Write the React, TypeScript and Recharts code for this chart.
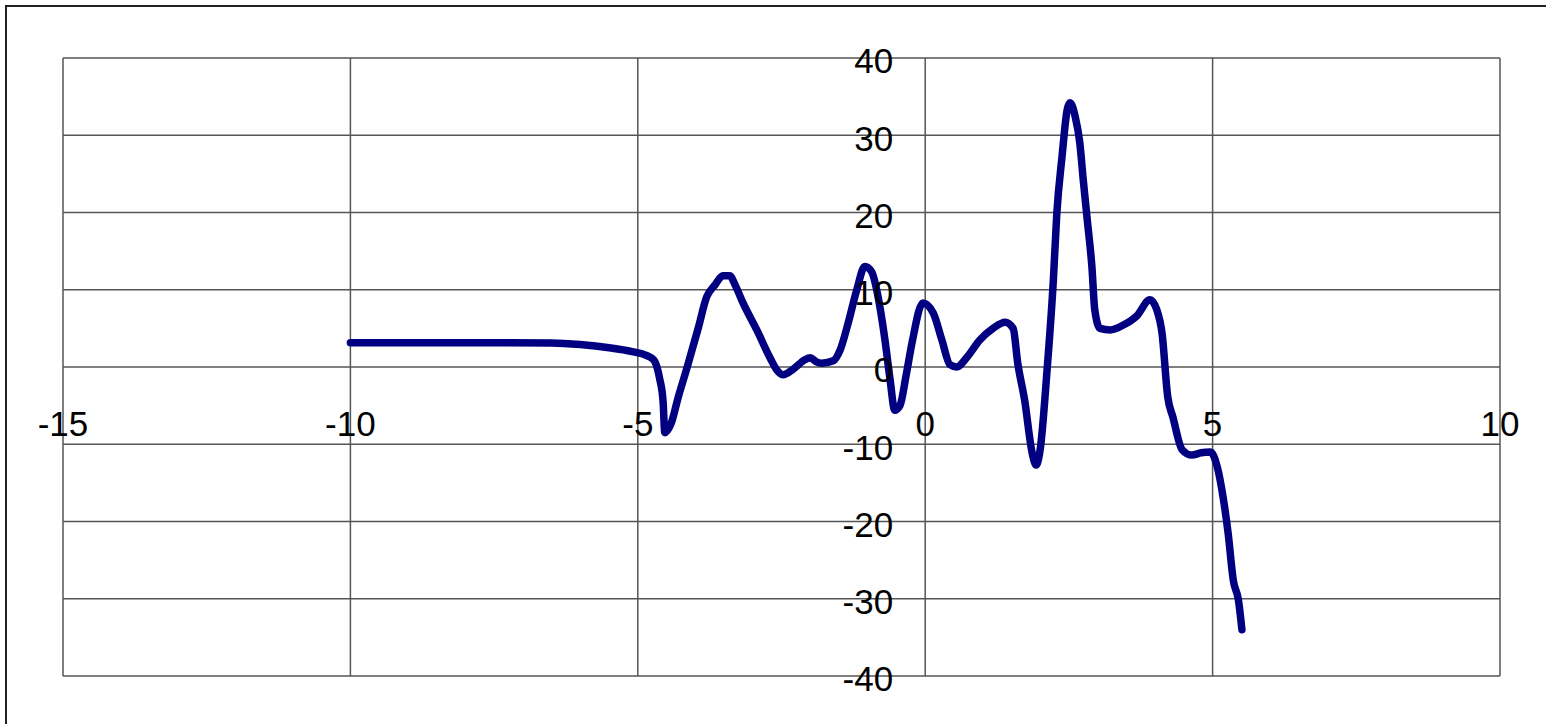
import { Line, LineChart, ReferenceDot, ReferenceLine, XAxis, YAxis } from 'recharts'

const xValues = [
  -10, -8, -6.5, -6, -5.5, -5.1, -4.85, -4.72, -4.62, -4.56, -4.53, -4.42, -4.3, -4.14, -3.95,
  -3.8, -3.66, -3.52, -3.4, -3.3, -3.17, -2.93, -2.7, -2.58, -2.47, -2.3, -2.1, -2.0, -1.9, -1.8,
  -1.6, -1.48, -1.34, -1.19, -1.05, -0.93, -0.82, -0.7, -0.61, -0.53, -0.44, -0.33, -0.23, -0.04,
  0.14, 0.29, 0.43, 0.55, 0.73, 0.95, 1.18, 1.39, 1.53, 1.61, 1.73, 1.86, 1.93, 2.0, 2.12, 2.23,
  2.29, 2.38, 2.47, 2.52, 2.61, 2.69, 2.75, 2.82, 2.9, 2.95, 3.04, 3.22, 3.44, 3.68, 3.91, 4.03,
  4.12, 4.22, 4.31, 4.47, 4.64, 4.8, 4.96, 5.08, 5.19, 5.27, 5.36, 5.45, 5.51,
]

const yValues = [
  3.15, 3.15, 3.1, 2.9, 2.5, 2.0, 1.5, 0.9, -1.5, -4.5, -8.5, -7.3, -4.0, 0, 5.0,
  9.1, 10.6, 11.8, 11.8, 10.5, 8.3, 4.8, 1.2, -0.4, -1.0, -0.3, 0.9, 1.2, 0.7, 0.5,
  0.8, 2.2, 5.7, 10.0, 13.0, 12.3, 9.1, 3.5, -1.7, -5.6, -5.0, -1.0, 3.1, 8.3,
  7.0, 3.5, 0.3, 0.0, 1.3, 3.5, 5.0, 5.8, 5.0, 0.5, -4.3, -11.1, -12.7, -10.7, -0.4, 11.3,
  19.9, 27.2, 33.3, 34.2, 32.4, 29.0, 24.2, 19.0, 13.0, 7.4, 5.0, 4.8, 5.4, 6.6, 8.7, 7.4,
  4.4, -3.9, -6.5, -10.7, -11.4, -11.1, -11.0, -12.9, -17.2, -21.5, -27.6, -30.2, -34.0,
]

const xTicks = [-15, -10, -5, 0, 5, 10]
const yTicks = [-40, -30, -20, -10, 0, 10, 20, 30, 40]

const data = xValues.map((x, i) => ({ x, y: yValues[i] }))

const labelFont = { fontSize: 35, fontFamily: 'Liberation Sans, Arial, sans-serif', fill: '#000' }
const gridColor = '#555'

export default function App() {
  return (
    <div
      style={{
        position: 'absolute',
        left: 0,
        top: 0,
        width: 1546,
        height: 724,
        overflow: 'hidden',
        background: '#fff',
      }}
    >
      <div
        style={{
          position: 'absolute',
          left: 5,
          top: 5,
          width: 1700,
          height: 900,
          border: '2px solid #222',
        }}
      />
      <div style={{ position: 'absolute', left: 0, top: 0 }}>
        <LineChart
          width={1546}
          height={724}
          data={data}
          margin={{ top: 58, right: 46, bottom: 48, left: 63 }}
        >
          <XAxis
            dataKey='x'
            type='number'
            domain={[-15, 10]}
            ticks={xTicks}
            height={0}
            tick={false}
            tickLine={false}
            axisLine={false}
          />
          <YAxis
            type='number'
            domain={[-40, 40]}
            ticks={yTicks}
            width={0}
            tick={false}
            tickLine={false}
            axisLine={false}
          />
          {xTicks.map((v) => (
            <ReferenceLine key={'gx' + v} x={v} stroke={gridColor} strokeWidth={1.5} />
          ))}
          {yTicks.map((v) => (
            <ReferenceLine key={'gy' + v} y={v} stroke={gridColor} strokeWidth={1.5} />
          ))}
          {xTicks.map((v) => (
            <ReferenceDot
              key={'x' + v}
              x={v}
              y={0}
              r={0}
              fill='none'
              stroke='none'
              label={{ value: String(v), position: 'bottom', offset: 44, ...labelFont }}
            />
          ))}
          {yTicks.map((v) => (
            <ReferenceDot
              key={'y' + v}
              x={0}
              y={v}
              r={0}
              fill='none'
              stroke='none'
              label={{ value: String(v), position: 'left', offset: 32, dy: 3, ...labelFont }}
            />
          ))}
          <Line
            type='monotone'
            dataKey='y'
            stroke='#000080'
            strokeWidth={7.5}
            dot={false}
            strokeLinecap='round'
            strokeLinejoin='round'
            isAnimationActive={false}
          />
        </LineChart>
      </div>
    </div>
  )
}
